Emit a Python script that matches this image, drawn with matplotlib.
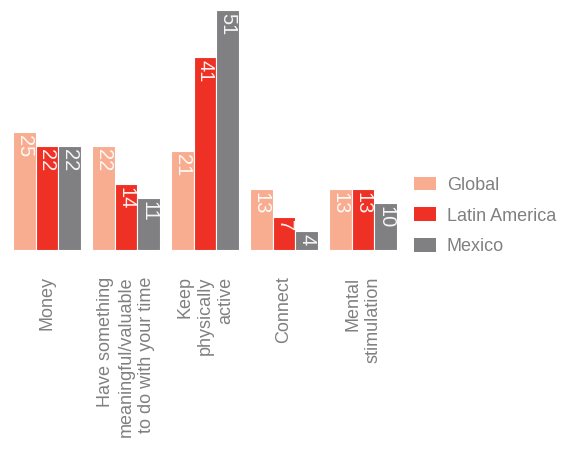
import matplotlib
matplotlib.use("Agg")
import matplotlib.pyplot as plt
import numpy as np
from matplotlib.patches import Patch

categories = [
    "Money",
    "Have something\nmeaningful/valuable\nto do with your time",
    "Keep\nphysically\nactive",
    "Connect",
    "Mental\nstimulation",
]
series_names = ["Global", "Latin America", "Mexico"]
global_vals = [25, 22, 21, 13, 13]
latam_vals = [22, 14, 41, 7, 13]
mexico_vals = [22, 11, 51, 4, 10]
colors = ["#F8AD90", "#EE3124", "#808083"]

plt.rcParams["font.family"] = ["Liberation Sans", "DejaVu Sans"]

fig = plt.figure(figsize=(5.66, 4.49), dpi=100)
ax = fig.add_axes([13 / 566, (449 - 250) / 449, 384 / 566, 240 / 449])

x = np.arange(len(categories))
w = 0.286
for i, (vals, col) in enumerate(zip([global_vals, latam_vals, mexico_vals], colors)):
    pos = x + (i - 1) * w
    ax.bar(pos, vals, width=w, color=col, edgecolor="white", linewidth=0.8)
    for p, v in zip(pos, vals):
        ax.text(p, v - 0.6, str(v), rotation=270, ha="center", va="top",
                color="white", alpha=0.92, fontsize=14.5)

ax.set_xlim(-0.43, len(categories) - 1 + 0.43)
ax.set_ylim(0, 51)
ax.set_yticks([])
ax.set_xticks(x)
ax.set_xticklabels(categories, rotation=90, ha="center", va="top",
                   multialignment="right", fontsize=13, color="#808080",
                   linespacing=1.25)
ax.tick_params(axis="x", length=0, pad=19)
for s in ax.spines.values():
    s.set_visible(False)

handles = [Patch(facecolor=c, edgecolor="none") for c in colors]
leg = ax.legend(handles, series_names, loc="center left",
                bbox_to_anchor=(394 / 384, (250 - 216) / 240),
                frameon=False, fontsize=13, handlelength=1.2, handleheight=0.8,
                handletextpad=0.6, labelspacing=0.76, borderaxespad=0)
for t in leg.get_texts():
    t.set_color("#808080")

fig.savefig("out.png", dpi=100)
